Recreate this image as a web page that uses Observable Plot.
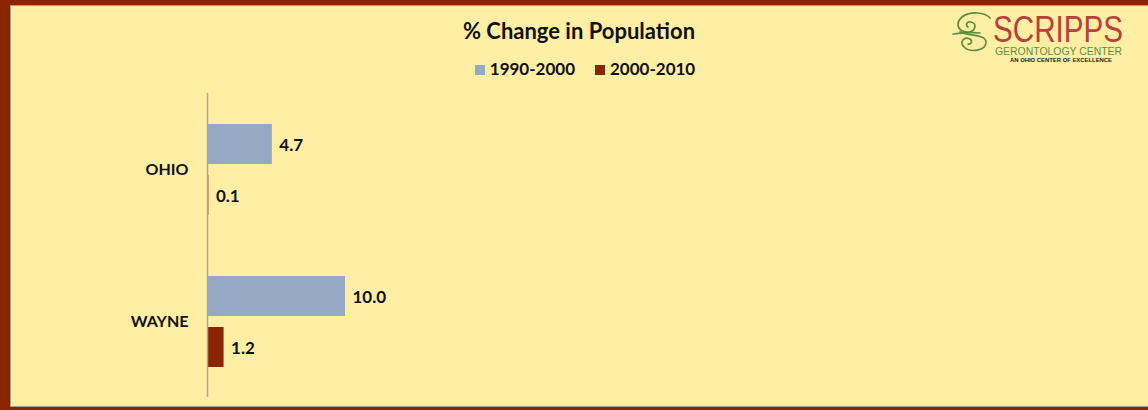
<!DOCTYPE html>
<html>
<head>
<meta charset="utf-8">
<script src="https://cdn.jsdelivr.net/npm/d3@7"></script>
<script src="https://cdn.jsdelivr.net/npm/@observablehq/plot@0.6"></script>
<style>
  html, body { margin: 0; padding: 0; }
  body { width: 1148px; height: 410px; background: #FFEFA5; position: relative; overflow: hidden;
         font-family: Lato, "Open Sans", sans-serif; }
  .b { position: absolute; background: #8B2500; }
  .g { position: absolute; background: #A89F86; }
  #title { position: absolute; left: 10px; width: 1138px; top: 17px; text-align: center;
           font-weight: bold; font-size: 22px; line-height: 28px; color: #111; }
  #legend { position: absolute; left: 16px; width: 1138px; top: 58px; display: flex; justify-content: center;
            gap: 20px; font-weight: bold; font-size: 17px; line-height: 22px; color: #111; }
  #legend span.sw { display: inline-block; width: 10px; height: 10px; margin-right: 5px; vertical-align: 0px; }
  #chart { position: absolute; left: 0; top: 93px; }
  #logo { position: absolute; left: 940px; top: 0px; overflow: visible; }
</style>
</head>
<body>
<div class="b" style="left:0;top:0;width:1148px;height:5px"></div>
<div class="b" style="left:0;top:0;width:10px;height:410px"></div>
<div class="b" style="left:0;top:407px;width:1148px;height:3px"></div>
<div class="g" style="left:10px;top:5px;width:1138px;height:1px"></div>
<div class="g" style="left:10px;top:5px;width:1px;height:402px"></div>
<div class="g" style="left:10px;top:406px;width:1138px;height:1px"></div>

<div id="title"></div>
<div id="legend"></div>
<div id="chart"></div>
<svg id="logo" width="208" height="70" viewBox="0 0 208 70">
  <g fill="none" stroke="#5E8E3A" stroke-width="1.7" stroke-linecap="round">
    <path d="M50,18 C45,12 30,11 22,17 C14,24 19,33 29,32 C36,31 37,23 31,22 C27,21 25,25 28,27"/>
    <path d="M20,32 C28,36 46,34 46,42 C46,51 30,53 24,47 C19,42 24,36 30,39 C33,41 31,45 28,44"/>
    <path d="M13,34 C22,33 32,32 40,33"/>
  </g>
  <text x="53" y="42" textLength="130" lengthAdjust="spacingAndGlyphs" font-family="'Liberation Sans', sans-serif" font-size="37" fill="#B8403B">SCRIPPS</text>
  <text x="55" y="54.5" textLength="127" lengthAdjust="spacingAndGlyphs" font-family="'Liberation Sans', sans-serif" font-size="10" fill="#5E8E3A">GERONTOLOGY  CENTER</text>
  <text x="70" y="61.5" textLength="102" lengthAdjust="spacingAndGlyphs" font-family="'Liberation Sans', sans-serif" font-weight="bold" font-size="4.5" fill="#222">AN OHIO CENTER OF EXCELLENCE</text>
</svg>

<script>
// ---- data ----
const regions = ["OHIO", "WAYNE"];
const periods = ["1990-2000", "2000-2010"];
const change1990to2000 = [4.7, 10.0];
const change2000to2010 = [0.1, 1.2];
const seriesColors = ["#95A9C5", "#8B2500"];
const titleText = "% Change in Population";

const rows = [];
regions.forEach((r, i) => {
  rows.push({region: r, period: periods[0], value: change1990to2000[i]});
  rows.push({region: r, period: periods[1], value: change2000to2010[i]});
});

document.getElementById("title").textContent = titleText;
const legend = document.getElementById("legend");
periods.forEach((p, i) => {
  const d = document.createElement("div");
  d.innerHTML = `<span class="sw" style="background:${seriesColors[i]}"></span>${p}`;
  legend.appendChild(d);
});

const chart = Plot.plot({
  width: 1148,
  height: 304,
  marginLeft: 207,
  marginRight: 113,
  marginTop: 0,
  marginBottom: 0,
  style: {background: "transparent", fontFamily: "Lato, 'Open Sans', sans-serif", color: "#111"},
  x: {domain: [0, 60], axis: null},
  fy: {domain: regions, padding: 0, axis: null},
  y: {domain: periods, paddingInner: 0.216, paddingOuter: 0.588, axis: null},
  color: {domain: periods, range: seriesColors},
  marks: [
    Plot.barX(rows, {x: "value", y: "period", fy: "region", fill: "period"}),
    Plot.ruleX([0], {stroke: "#A6A6A6", strokeWidth: 1.5}),
    Plot.text(rows, {x: "value", y: "period", fy: "region", text: d => d.value.toFixed(1),
      dx: 7, dy: 1, textAnchor: "start", fontWeight: "bold", fontSize: 17, fill: "#111"}),
    Plot.text(regions, {fy: d => d, text: d => d, frameAnchor: "left", dx: -19, textAnchor: "end",
      fontWeight: "bold", fontSize: 16, fill: "#111"})
  ]
});
document.getElementById("chart").appendChild(chart);
</script>
</body>
</html>
